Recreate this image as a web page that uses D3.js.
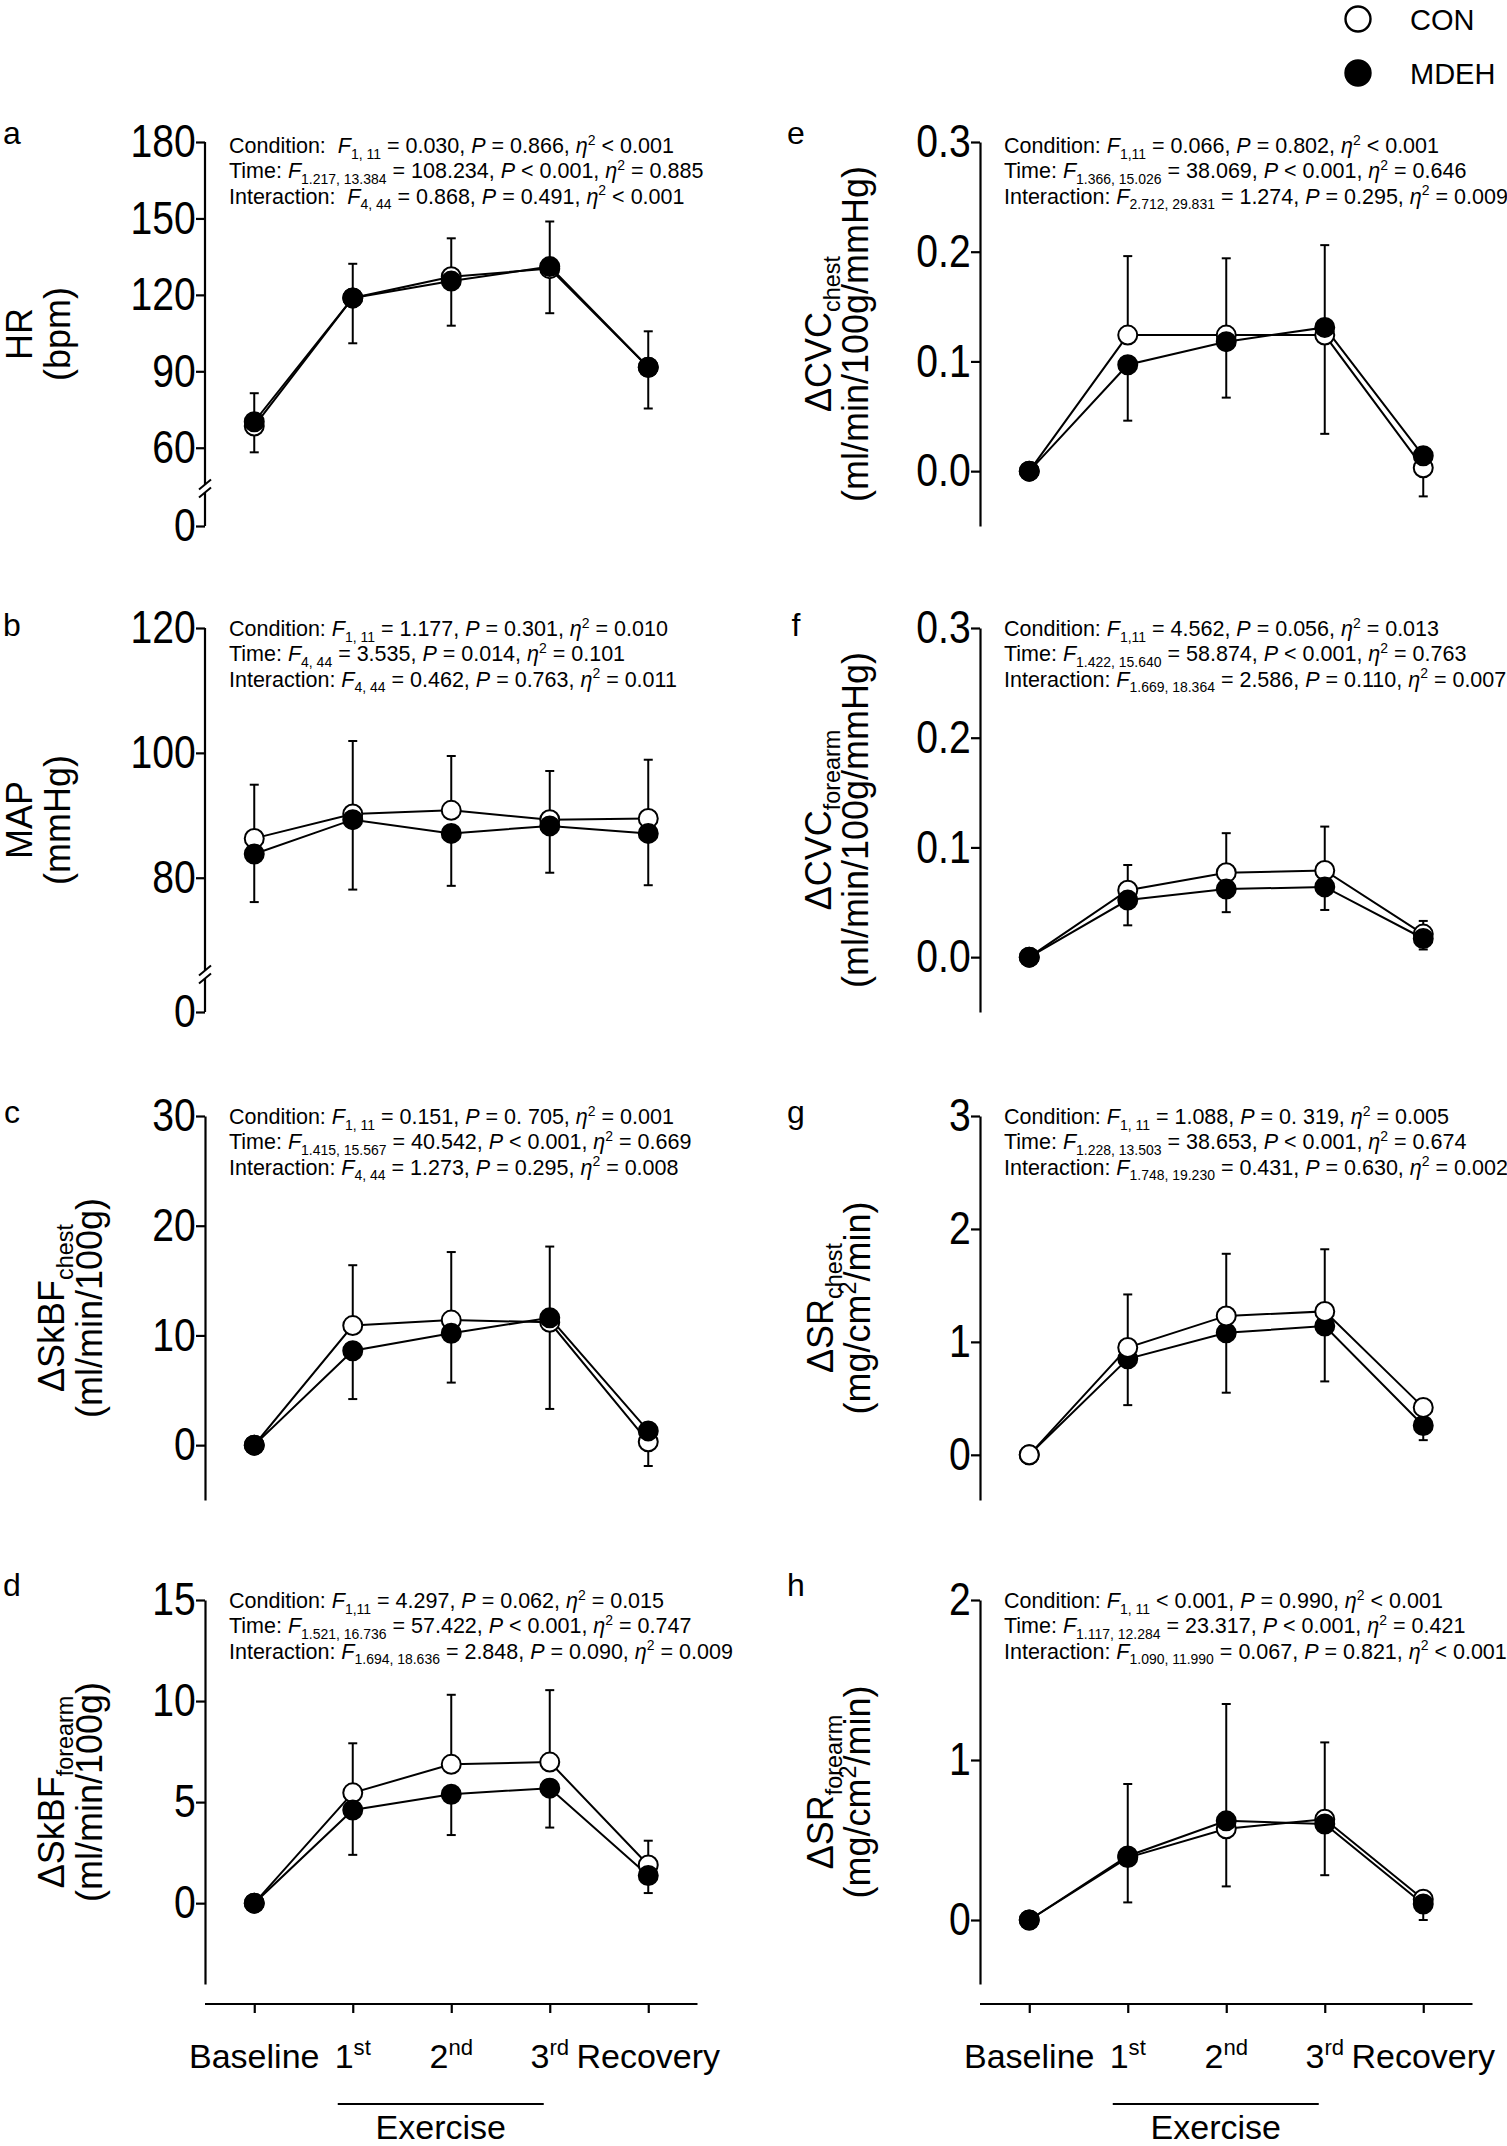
<!DOCTYPE html>
<html><head><meta charset="utf-8">
<script src="https://cdn.jsdelivr.net/npm/d3@7"></script>
<style>
body{margin:0;background:#fff;}
svg{display:block;font-family:"Liberation Sans", Arial, Helvetica, sans-serif;}
text{white-space:pre;}
</style></head><body>
<svg id="chart" width="1507" height="2146"></svg>
<script>
// ---------------- DATA ----------------
const categories = ["Baseline", "1st", "2nd", "3rd", "Recovery"];
const xLabelParts = [["Baseline", ""], ["1", "st"], ["2", "nd"], ["3", "rd"], ["", "Recovery"]];
const seriesNames = ["CON", "MDEH"];
const groupLabel = "Exercise";

// a: HR (bpm)
const hrCon = [68.5, 118.8, 127.1, 130.3, 91.6];
const hrConSD = [12.9, 13.4, 15.1, 18.5, 14.1];
const hrMdeh = [70.2, 118.8, 125.4, 131.1, 91.6];
const hrMdehSD = [12.0, 17.8, 17.5, 18.3, 16.2];
const hrTicks = [0, 60, 90, 120, 150, 180];

// b: MAP (mmHg)
const mapCon = [86.3, 90.2, 90.8, 89.3, 89.5];
const mapConSD = [8.6, 11.7, 8.7, 7.8, 9.4];
const mapMdeh = [83.8, 89.3, 87.1, 88.3, 87.1];
const mapMdehSD = [7.7, 11.2, 8.4, 7.5, 8.3];
const mapTicks = [0, 80, 100, 120];

// c: ΔSkBF chest
const skbfChestCon = [0, 10.9, 11.4, 11.2, 0.3];
const skbfChestConSD = [0, 5.5, 6.2, 6.9, 1.0];
const skbfChestMdeh = [0, 8.6, 10.2, 11.6, 1.3];
const skbfChestMdehSD = [0, 4.4, 4.5, 8.3, 3.2];
const skbfChestTicks = [0, 10, 20, 30];

// d: ΔSkBF forearm
const skbfForearmCon = [0, 5.46, 6.87, 6.98, 1.89];
const skbfForearmConSD = [0, 2.45, 3.44, 3.56, 1.2];
const skbfForearmMdeh = [0, 4.61, 5.39, 5.69, 1.37];
const skbfForearmMdehSD = [0, 2.22, 2.02, 1.95, 0.87];
const skbfForearmTicks = [0, 5, 10, 15];

// e: ΔCVC chest
const cvcChestCon = [0, 0.124, 0.124, 0.124, 0.003];
const cvcChestConSD = [0, 0.072, 0.070, 0.082, 0.015];
const cvcChestMdeh = [0, 0.097, 0.118, 0.131, 0.014];
const cvcChestMdehSD = [0, 0.051, 0.051, 0.097, 0.037];
const cvcChestTicks = [0, 0.1, 0.2, 0.3];

// f: ΔCVC forearm
const cvcForearmCon = [0, 0.061, 0.077, 0.079, 0.021];
const cvcForearmConSD = [0, 0.023, 0.036, 0.040, 0.012];
const cvcForearmMdeh = [0, 0.052, 0.062, 0.064, 0.017];
const cvcForearmMdehSD = [0, 0.023, 0.021, 0.021, 0.010];
const cvcForearmTicks = [0, 0.1, 0.2, 0.3];

// g: ΔSR chest
const srChestCon = [0, 0.95, 1.23, 1.27, 0.42];
const srChestConSD = [0, 0.47, 0.55, 0.55, 0.04];
const srChestMdeh = [0, 0.85, 1.08, 1.14, 0.26];
const srChestMdehSD = [0, 0.41, 0.53, 0.49, 0.13];
const srChestTicks = [0, 1, 2, 3];

// h: ΔSR forearm
const srForearmCon = [0, 0.39, 0.57, 0.63, 0.13];
const srForearmConSD = [0, 0.46, 0.78, 0.48, 0.03];
const srForearmMdeh = [0, 0.40, 0.62, 0.60, 0.10];
const srForearmMdehSD = [0, 0.29, 0.41, 0.32, 0.10];
const srForearmTicks = [0, 1, 2];

// statistics: [label, F subscript, F value, P value, eta2 value]
const statsA = [["Condition:  ", "1, 11", "= 0.030", "= 0.866", "< 0.001"],
                ["Time: ", "1.217, 13.384", "= 108.234", "< 0.001", "= 0.885"],
                ["Interaction:  ", "4, 44", "= 0.868", "= 0.491", "< 0.001"]];
const statsB = [["Condition: ", "1, 11", "= 1.177", "= 0.301", "= 0.010"],
                ["Time: ", "4, 44", "= 3.535", "= 0.014", "= 0.101"],
                ["Interaction: ", "4, 44", "= 0.462", "= 0.763", "= 0.011"]];
const statsC = [["Condition: ", "1, 11", "= 0.151", "= 0. 705", "= 0.001"],
                ["Time: ", "1.415, 15.567", "= 40.542", "< 0.001", "= 0.669"],
                ["Interaction: ", "4, 44", "= 1.273", "= 0.295", "= 0.008"]];
const statsD = [["Condition: ", "1,11", "= 4.297", "= 0.062", "= 0.015"],
                ["Time: ", "1.521, 16.736", "= 57.422", "< 0.001", "= 0.747"],
                ["Interaction: ", "1.694, 18.636", "= 2.848", "= 0.090", "= 0.009"]];
const statsE = [["Condition: ", "1,11", "= 0.066", "= 0.802", "< 0.001"],
                ["Time: ", "1.366, 15.026", "= 38.069", "< 0.001", "= 0.646"],
                ["Interaction: ", "2.712, 29.831", "= 1.274", "= 0.295", "= 0.009"]];
const statsF = [["Condition: ", "1,11", "= 4.562", "= 0.056", "= 0.013"],
                ["Time: ", "1.422, 15.640", "= 58.874", "< 0.001", "= 0.763"],
                ["Interaction: ", "1.669, 18.364", "= 2.586", "= 0.110", "= 0.007"]];
const statsG = [["Condition: ", "1, 11", "= 1.088", "= 0. 319", "= 0.005"],
                ["Time: ", "1.228, 13.503", "= 38.653", "< 0.001", "= 0.674"],
                ["Interaction: ", "1.748, 19.230", "= 0.431", "= 0.630", "= 0.002"]];
const statsH = [["Condition: ", "1, 11", "< 0.001", "= 0.990", "< 0.001"],
                ["Time: ", "1.117, 12.284", "= 23.317", "< 0.001", "= 0.421"],
                ["Interaction: ", "1.090, 11.990", "= 0.067", "= 0.821", "< 0.001"]];

// ---------------- LAYOUT ----------------
const svg = d3.select("#chart");
const colX = [205, 980];
const rowTop = [142, 628, 1116, 1600];
const plotH = 384;
const step = 98.5;
const xAxisY = 2004;

function rich(sel, segs, fs) {
  let shift = 0;
  segs.forEach(([t, k]) => {
    const target = k === "sub" ? 0.26 * fs : (k === "sup" ? -0.38 * fs : 0);
    const ts = sel.append("tspan").text(t);
    if (target - shift !== 0) ts.attr("dy", target - shift);
    shift = target;
    if (k === "sub" || k === "sup") ts.attr("font-size", fs * 0.65);
    if (k === "i") ts.attr("font-style", "italic");
  });
}

const panels = [
  {letter: "a", col: 0, row: 0, con: hrCon, conSD: hrConSD, mdeh: hrMdeh, mdehSD: hrMdehSD,
   ticks: hrTicks, brk: 44, max: 180, fmt: d3.format("d"), stats: statsA, statOff: 11,
   title: [[["HR", "n"]], [["(bpm)", "n"]]], titleX: [32, 70]},
  {letter: "b", col: 0, row: 1, con: mapCon, conSD: mapConSD, mdeh: mapMdeh, mdehSD: mapMdehSD,
   ticks: mapTicks, brk: 64.5, max: 120, fmt: d3.format("d"), stats: statsB, statOff: 8,
   title: [[["MAP", "n"]], [["(mmHg)", "n"]]], titleX: [32, 70]},
  {letter: "c", col: 0, row: 2, con: skbfChestCon, conSD: skbfChestConSD, mdeh: skbfChestMdeh, mdehSD: skbfChestMdehSD,
   ticks: skbfChestTicks, min: -5, max: 30, fmt: d3.format("d"), stats: statsC, statOff: 8,
   title: [[["ΔSkBF", "n"], ["chest", "sub"]], [["(ml/min/100g)", "n"]]], titleX: [64, 102]},
  {letter: "d", col: 0, row: 3, con: skbfForearmCon, conSD: skbfForearmConSD, mdeh: skbfForearmMdeh, mdehSD: skbfForearmMdehSD,
   ticks: skbfForearmTicks, min: -4, max: 15, fmt: d3.format("d"), stats: statsD, statOff: 8,
   title: [[["ΔSkBF", "n"], ["forearm", "sub"]], [["(ml/min/100g)", "n"]]], titleX: [64, 102]},
  {letter: "e", col: 1, row: 0, con: cvcChestCon, conSD: cvcChestConSD, mdeh: cvcChestMdeh, mdehSD: cvcChestMdehSD,
   ticks: cvcChestTicks, min: -0.05, max: 0.3, fmt: d3.format(".1f"), stats: statsE, statOff: 11,
   title: [[["ΔCVC", "n"], ["chest", "sub"]], [["(ml/min/100g/mmHg)", "n"]]], titleX: [831, 868]},
  {letter: "f", col: 1, row: 1, con: cvcForearmCon, conSD: cvcForearmConSD, mdeh: cvcForearmMdeh, mdehSD: cvcForearmMdehSD,
   ticks: cvcForearmTicks, min: -0.05, max: 0.3, fmt: d3.format(".1f"), stats: statsF, statOff: 8,
   title: [[["ΔCVC", "n"], ["forearm", "sub"]], [["(ml/min/100g/mmHg)", "n"]]], titleX: [831, 868]},
  {letter: "g", col: 1, row: 2, con: srChestCon, conSD: srChestConSD, mdeh: srChestMdeh, mdehSD: srChestMdehSD,
   ticks: srChestTicks, min: -0.4, max: 3, fmt: d3.format("d"), stats: statsG, statOff: 8, conOnTop: true,
   title: [[["ΔSR", "n"], ["chest", "sub"]], [["(mg/cm", "n"], ["2", "sup"], ["/min)", "n"]]], titleX: [833, 870]},
  {letter: "h", col: 1, row: 3, con: srForearmCon, conSD: srForearmConSD, mdeh: srForearmMdeh, mdehSD: srForearmMdehSD,
   ticks: srForearmTicks, min: -0.4, max: 2, fmt: d3.format("d"), stats: statsH, statOff: 8,
   title: [[["ΔSR", "n"], ["forearm", "sub"]], [["(mg/cm", "n"], ["2", "sup"], ["/min)", "n"]]], titleX: [833, 870]}
];

const letterY = [144, 636, 1123, 1596];
const letterX = [12, 796];

panels.forEach(p => {
  const ax = colX[p.col], top = rowTop[p.row], bottom = top + plotH;
  const g = svg.append("g");
  const x = d3.scalePoint().domain(categories).range([ax, ax + step * 5]).padding(0.5);
  const y = p.brk !== undefined
    ? d3.scaleLinear().domain([0, p.brk, p.max]).range([bottom, bottom - 37.5, top])
    : d3.scaleLinear().domain([p.min, p.max]).range([bottom, top]);

  // y axis
  const yAxis = g.append("g").attr("transform", `translate(${ax},0)`)
    .call(d3.axisLeft(y).tickValues(p.ticks).tickFormat(p.fmt).tickSize(9).tickSizeOuter(0).tickPadding(2));
  yAxis.selectAll("line").attr("stroke", "#000").attr("stroke-width", 2.2);
  yAxis.select(".domain").attr("stroke", "#000").attr("stroke-width", 2.2);
  yAxis.selectAll("text").attr("font-size", 46).attr("fill", "#000")
    .attr("font-family", '"Liberation Sans", Arial, sans-serif')
    .attr("transform", "scale(0.85,1)");
  if (p.brk !== undefined) {
    yAxis.select(".domain").remove();
    const yb = y(p.brk);
    g.append("line").attr("x1", ax).attr("x2", ax).attr("y1", top).attr("y2", yb - 4)
      .attr("stroke", "#000").attr("stroke-width", 2.2);
    g.append("line").attr("x1", ax).attr("x2", ax).attr("y1", yb + 4).attr("y2", y(0))
      .attr("stroke", "#000").attr("stroke-width", 2.2);
    [yb - 4, yb + 4].forEach(yy => {
      g.append("line").attr("x1", ax - 6).attr("y1", yy + 5).attr("x2", ax + 6).attr("y2", yy - 5)
        .attr("stroke", "#000").attr("stroke-width", 2);
    });
  }

  // x axis (bottom row)
  if (p.row === 3) {
    const xAxis = g.append("g").attr("transform", `translate(0,${xAxisY})`)
      .call(d3.axisBottom(x).tickSize(9).tickSizeOuter(0).tickFormat(""));
    xAxis.selectAll("line").attr("stroke", "#000").attr("stroke-width", 2.2);
    xAxis.select(".domain").attr("stroke", "#000").attr("stroke-width", 2.2)
      .attr("d", `M${ax},0H${ax + step * 5}`);
    categories.forEach((c, i) => {
      const t = g.append("text").attr("x", x(c)).attr("y", 2068).attr("text-anchor", "middle")
        .attr("font-size", 34);
      const [main, sup] = xLabelParts[i];
      if (main) rich(t, [[main, "n"], [sup, "sup"]], 34);
      else t.text(sup);
    });
    const ex1 = x("1st") - 15, ex2 = x("3rd") - 6;
    g.append("line").attr("x1", ex1).attr("x2", ex2).attr("y1", 2104).attr("y2", 2104)
      .attr("stroke", "#000").attr("stroke-width", 2);
    g.append("text").attr("x", (ex1 + ex2) / 2).attr("y", 2139).attr("text-anchor", "middle")
      .attr("font-size", 34).text(groupLabel);
  }

  // error bars: CON upward, MDEH downward
  const cap = 4.5;
  const bars = [];
  categories.forEach((c, i) => {
    if (p.conSD[i] > 0) bars.push({x: x(c), y0: y(p.con[i]), y1: y(p.con[i] + p.conSD[i])});
    if (p.mdehSD[i] > 0) bars.push({x: x(c), y0: y(p.mdeh[i]), y1: y(p.mdeh[i] - p.mdehSD[i])});
  });
  const eb = g.append("g").attr("stroke", "#000").attr("stroke-width", 2);
  bars.forEach(b => {
    eb.append("line").attr("x1", b.x).attr("x2", b.x).attr("y1", b.y0).attr("y2", b.y1);
    eb.append("line").attr("x1", b.x - cap).attr("x2", b.x + cap).attr("y1", b.y1).attr("y2", b.y1);
  });

  // lines
  const line = d3.line().x((d, i) => x(categories[i])).y(d => y(d));
  [p.con, p.mdeh].forEach(s => {
    g.append("path").datum(s).attr("d", line).attr("fill", "none")
      .attr("stroke", "#000").attr("stroke-width", 2);
  });

  // markers
  const drawMarkers = (s, filled) => {
    g.append("g").selectAll("circle").data(s).join("circle")
      .attr("cx", (d, i) => x(categories[i])).attr("cy", d => y(d)).attr("r", 9.5)
      .attr("fill", filled ? "#000" : "#fff").attr("stroke", "#000").attr("stroke-width", 2);
  };
  if (p.conOnTop) { drawMarkers(p.mdeh, true); drawMarkers(p.con, false); }
  else { drawMarkers(p.con, false); drawMarkers(p.mdeh, true); }

  // statistics text
  p.stats.forEach((s, i) => {
    const t = g.append("text").attr("x", ax + 24).attr("y", top + p.statOff + i * 25.3)
      .attr("font-size", 21.5);
    rich(t, [[s[0], "n"], ["F", "i"], [s[1], "sub"], [" " + s[2] + ", ", "n"], ["P", "i"],
             [" " + s[3] + ", ", "n"], ["η", "i"], ["2", "sup"], [" " + s[4], "n"]], 21.5);
  });

  // panel letter
  g.append("text").attr("x", letterX[p.col]).attr("y", letterY[p.row]).attr("text-anchor", "middle")
    .attr("font-size", 32).text(p.letter);

  // y title
  const cy = (top + bottom) / 2;
  p.title.forEach((segs, li) => {
    const t = g.append("text").attr("transform", `translate(${p.titleX[li]},${cy}) rotate(-90)`)
      .attr("text-anchor", "middle").attr("font-size", 36);
    rich(t, segs, 36);
  });
});

// legend
const legendY = [19, 73];
seriesNames.forEach((n, i) => {
  svg.append("circle").attr("cx", 1358).attr("cy", legendY[i]).attr("r", 12.5)
    .attr("fill", i === 0 ? "#fff" : "#000").attr("stroke", "#000").attr("stroke-width", 2.4);
  svg.append("text").attr("x", 1410).attr("y", legendY[i] + 10.5).attr("font-size", 29).text(n);
});
</script>
</body></html>
